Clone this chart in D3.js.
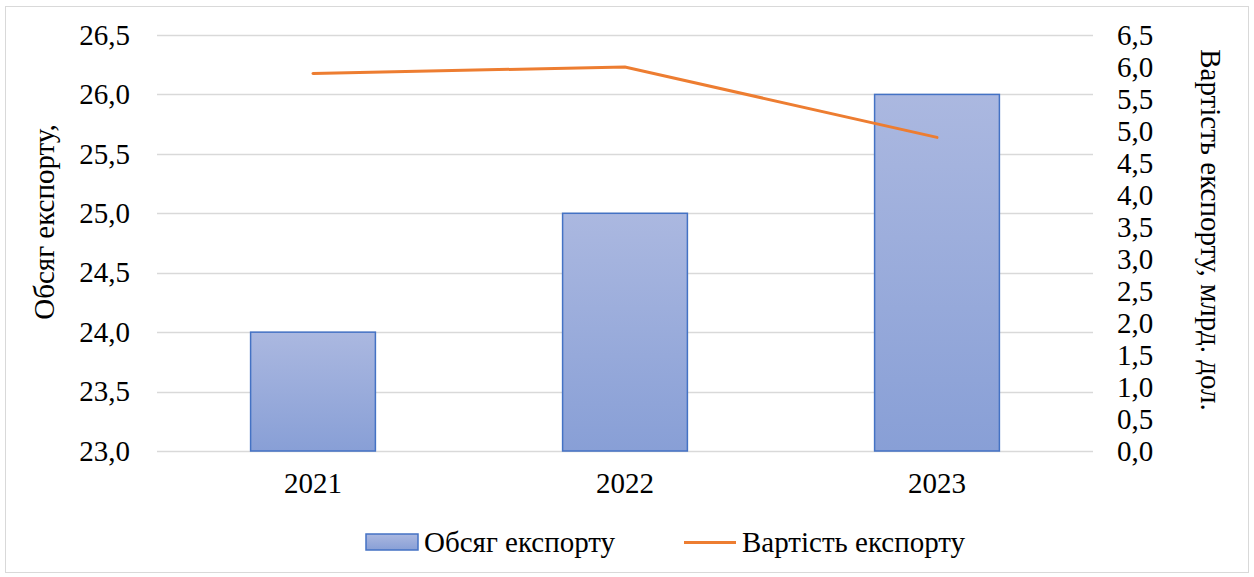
<!DOCTYPE html>
<html>
<head>
<meta charset="utf-8">
<title>Chart</title>
<style>
  body { margin: 0; background: #fff; }
</style>
</head>
<body>
<svg width="1254" height="577" font-family="Liberation Serif"></svg>
<script src="https://d3js.org/d3.v7.min.js"></script>
<script>
  // data
  const years = ["2021", "2022", "2023"]
  const volume = [24.0, 25.0, 26.0]      // Обсяг експорту
  const value = [5.9, 6.0, 4.9]          // Вартість експорту, млрд. дол.
  const leftTicks = [23.0, 23.5, 24.0, 24.5, 25.0, 25.5, 26.0, 26.5]
  const rightTicks = [0, 0.5, 1, 1.5, 2, 2.5, 3, 3.5, 4, 4.5, 5, 5.5, 6, 6.5]

  const FONT = "Liberation Serif"
  const FS = 29

  const margin = {top: 35, right: 161, bottom: 126, left: 157}
  const width = 1254 - margin.left - margin.right
  const height = 577 - margin.top - margin.bottom

  const fmt = d => d.toFixed(1).replace(".", ",")

  const root = d3.select("svg")

  // outer border
  root.append("rect")
    .attr("x", 5.5).attr("y", 6.5)
    .attr("width", 1243).attr("height", 566)
    .attr("fill", "none").attr("stroke", "#d9d9d9")

  const defs = root.append("defs")
  const grad = defs.append("linearGradient")
    .attr("id", "barGrad").attr("x1", 0).attr("y1", 0).attr("x2", 0).attr("y2", 1)
  grad.append("stop").attr("offset", "0%").attr("stop-color", "#abb8e0")
  grad.append("stop").attr("offset", "100%").attr("stop-color", "#889fd6")

  const svg = root.append("g")
    .attr("transform", "translate(" + margin.left + "," + margin.top + ")")

  const x = d3.scaleBand().domain(years).range([0, width]).padding(0)
  const y = d3.scaleLinear().domain([23, 26.5]).range([height, 0])
  const y2 = d3.scaleLinear().domain([0, 6.5]).range([height, 0])

  // gridlines
  svg.selectAll(".grid")
    .data(leftTicks)
    .enter().append("line")
    .attr("class", "grid")
    .attr("x1", 0).attr("x2", width)
    .attr("y1", d => Math.round(y(d)) + 0.5)
    .attr("y2", d => Math.round(y(d)) + 0.5)
    .attr("stroke", "#d9d9d9").attr("stroke-width", 1.5)

  function styleAxis(g) {
    g.attr("font-family", FONT).attr("font-size", FS)
    g.select(".domain").remove()
    g.selectAll("text").attr("fill", "#000").attr("font-family", FONT)
  }

  // left axis
  svg.append("g")
    .call(d3.axisLeft(y).tickValues(leftTicks).tickFormat(fmt).tickSize(0).tickPadding(27))
    .call(styleAxis)

  // right axis
  svg.append("g")
    .attr("transform", "translate(" + width + ",0)")
    .call(d3.axisRight(y2).tickValues(rightTicks).tickFormat(fmt).tickSize(0).tickPadding(24))
    .call(styleAxis)

  // bottom axis
  svg.append("g")
    .attr("transform", "translate(0," + height + ")")
    .call(d3.axisBottom(x).tickSize(0).tickPadding(21))
    .call(styleAxis)

  // bars
  const bw = x.bandwidth() * 0.4
  svg.selectAll(".bar")
    .data(volume)
    .enter().append("rect")
    .attr("class", "bar")
    .attr("x", (d, i) => x(years[i]) + (x.bandwidth() - bw) / 2)
    .attr("y", d => y(d))
    .attr("width", bw)
    .attr("height", d => height - y(d))
    .attr("fill", "url(#barGrad)")
    .attr("stroke", "#4472c4").attr("stroke-width", 1.5)

  // line
  const line = d3.line()
    .x((d, i) => x(years[i]) + x.bandwidth() / 2)
    .y(d => y2(d))
  svg.append("path")
    .datum(value)
    .attr("d", line)
    .attr("fill", "none")
    .attr("stroke", "#ed7d31").attr("stroke-width", 3)
    .attr("stroke-linecap", "round")

  // axis titles
  root.append("text")
    .attr("transform", "translate(54,222) rotate(-90)")
    .attr("text-anchor", "middle")
    .attr("font-family", FONT).attr("font-size", FS)
    .text("Обсяг експорту,")

  root.append("text")
    .attr("transform", "translate(1201,230) rotate(90)")
    .attr("text-anchor", "middle")
    .attr("font-family", FONT).attr("font-size", FS)
    .text("Вартість експорту, млрд. дол.")

  // legend
  const leg = root.append("g").attr("transform", "translate(366,534)")
    .attr("font-family", FONT).attr("font-size", FS)
  leg.append("rect")
    .attr("x", 0).attr("y", 0).attr("width", 52).attr("height", 16)
    .attr("fill", "url(#barGrad)").attr("stroke", "#4472c4").attr("stroke-width", 1.5)
  leg.append("text").attr("x", 58).attr("y", 18).text("Обсяг експорту")
  leg.append("line")
    .attr("x1", 318).attr("x2", 370).attr("y1", 8.5).attr("y2", 8.5)
    .attr("stroke", "#ed7d31").attr("stroke-width", 3)
  leg.append("text").attr("x", 376).attr("y", 18).text("Вартість експорту")
</script>
</body>
</html>
